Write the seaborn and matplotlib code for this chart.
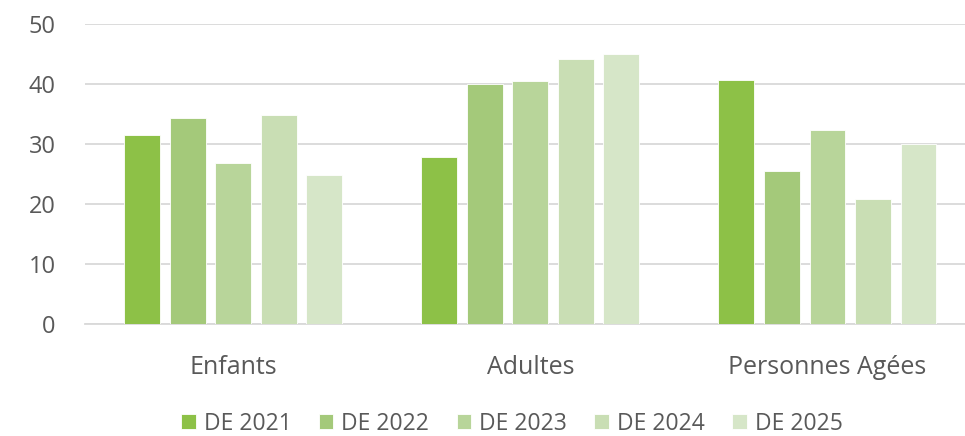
import numpy as np
import pandas as pd
import matplotlib
matplotlib.use("Agg")
import matplotlib.pyplot as plt
import seaborn as sns

groupes = ["Enfants", "Adultes", "Personnes Agées"]
annees = ["DE 2021", "DE 2022", "DE 2023", "DE 2024", "DE 2025"]
de_2021 = [31.5, 27.8, 40.7]
de_2022 = [34.4, 40.0, 25.5]
de_2023 = [26.9, 40.5, 32.4]
de_2024 = [34.9, 44.2, 20.9]
de_2025 = [24.9, 45.0, 30.0]
couleurs = ["#8DC147", "#A4C97A", "#B8D59A", "#C9DEB4", "#D6E6C8"]

series = [de_2021, de_2022, de_2023, de_2024, de_2025]
rows = []
for an, vals in zip(annees, series):
    for g, v in zip(groupes, vals):
        rows.append({"groupe": g, "annee": an, "valeur": v})
df = pd.DataFrame(rows)

sns.set_style("white")
plt.rcParams['font.family'] = ['Open Sans', 'DejaVu Sans']

fig, ax = plt.subplots(figsize=(9.65, 4.36), dpi=100)
sns.barplot(data=df, x="groupe", y="valeur", hue="annee", hue_order=annees,
            palette=couleurs, width=0.766, gap=0.21, saturation=1,
            edgecolor="white", linewidth=0.6, ax=ax, zorder=3)

# the plot area runs past the right edge of the picture
ax.set_xlim(-0.5, 2.463)
ax.set_ylim(0, 50)
ax.set_yticks(range(0, 51, 10))
ax.yaxis.grid(True, color="#d9d9d9", linewidth=1.3, zorder=0)
ax.set_axisbelow(True)
for s in ["top", "right", "left"]:
    ax.spines[s].set_visible(False)
ax.spines["bottom"].set_color("#d9d9d9")
ax.spines["bottom"].set_linewidth(1.3)
ax.set_xlabel("")
ax.set_ylabel("")
ax.tick_params(axis="both", length=0, labelsize=17, colors="#595959")
ax.tick_params(axis="y", pad=21)
ax.tick_params(axis="x", pad=22, labelsize=18)

leg = ax.legend(loc="center", bbox_to_anchor=(0.485, -0.332), ncol=5,
                frameon=False, fontsize=16.5, handlelength=0.64, handleheight=0.64,
                handletextpad=0.34, columnspacing=1.2)
for t in leg.get_texts():
    t.set_color("#595959")

plt.subplots_adjust(left=0.088, right=1.0, top=0.945, bottom=0.257)
plt.savefig("out.png", dpi=100)
